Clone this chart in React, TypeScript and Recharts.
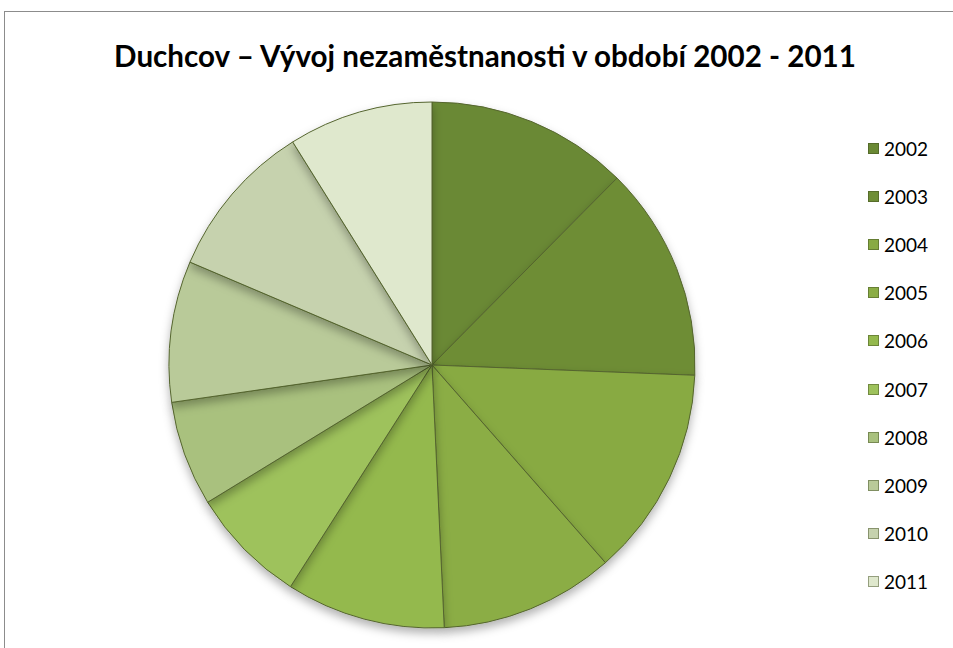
import { PieChart, Pie, Cell, Legend } from "recharts";

const years = ["2002", "2003", "2004", "2005", "2006", "2007", "2008", "2009", "2010", "2011"];
const unemployed = [745, 792, 775, 643, 587, 433, 388, 520, 583, 533];
const colors = [
  "#6a8934",
  "#6e8d36",
  "#88aa43",
  "#8bad45",
  "#94b94d",
  "#9ec25c",
  "#a9c17e",
  "#b9ca99",
  "#c6d2ae",
  "#dfe8cd",
];

const data = years.map((y, i) => ({ name: y, value: unemployed[i] }));

function LegendList() {
  return (
    <div>
      {years.map((y, i) => (
        <div
          key={y}
          style={{ display: "flex", alignItems: "center", height: 48.2 }}
        >
          <span
            style={{
              width: 11,
              height: 11,
              marginRight: 5,
              background: colors[i],
              boxShadow: "inset 0 0 0 1px rgba(60,70,30,0.45)",
            }}
          />
          <span style={{ fontSize: 19, color: "#000" }}>{y}</span>
        </div>
      ))}
    </div>
  );
}

export default function App() {
  return (
    <div
      style={{
        position: "absolute",
        left: 0,
        top: 0,
        width: 953,
        height: 648,
        background: "#fff",
        overflow: "hidden",
        fontFamily: "Lato, 'Open Sans', sans-serif",
      }}
    >
      <div
        style={{
          position: "absolute",
          left: 4,
          top: 11,
          width: 960,
          height: 650,
          border: "1.5px solid #8c8c8c",
          boxSizing: "border-box",
        }}
      />
      <div
        style={{
          position: "absolute",
          left: 0,
          top: 38,
          width: 970,
          textAlign: "center",
          fontSize: 29.6,
          fontWeight: 700,
          color: "#000",
        }}
      >
        Duchcov – Vývoj nezaměstnanosti v období 2002 - 2011
      </div>
      <div style={{ position: "absolute", left: 0, top: 0 }}>
        <PieChart width={953} height={648} margin={{ top: 0, right: 0, bottom: 0, left: 0 }}>
          <defs>
            <filter id="pieShadow" x="-20%" y="-20%" width="140%" height="140%">
              <feDropShadow dx="0" dy="5" stdDeviation="5" floodColor="#000" floodOpacity="0.3" />
            </filter>
          </defs>
          <Pie
            data={data}
            dataKey="value"
            nameKey="name"
            cx={432}
            cy={365}
            outerRadius={263}
            startAngle={90}
            endAngle={-270}
            stroke="#55652f"
            strokeWidth={1}
            isAnimationActive={false}
            style={{ filter: "url(#pieShadow)" }}
          >
            {data.map((d, i) => (
              <Cell key={d.name} fill={colors[i]} />
            ))}
          </Pie>
          <Legend
            layout="vertical"
            content={() => <LegendList />}
            wrapperStyle={{ position: "absolute", left: 868, top: 124, width: 80 }}
          />
        </PieChart>
      </div>
    </div>
  );
}
